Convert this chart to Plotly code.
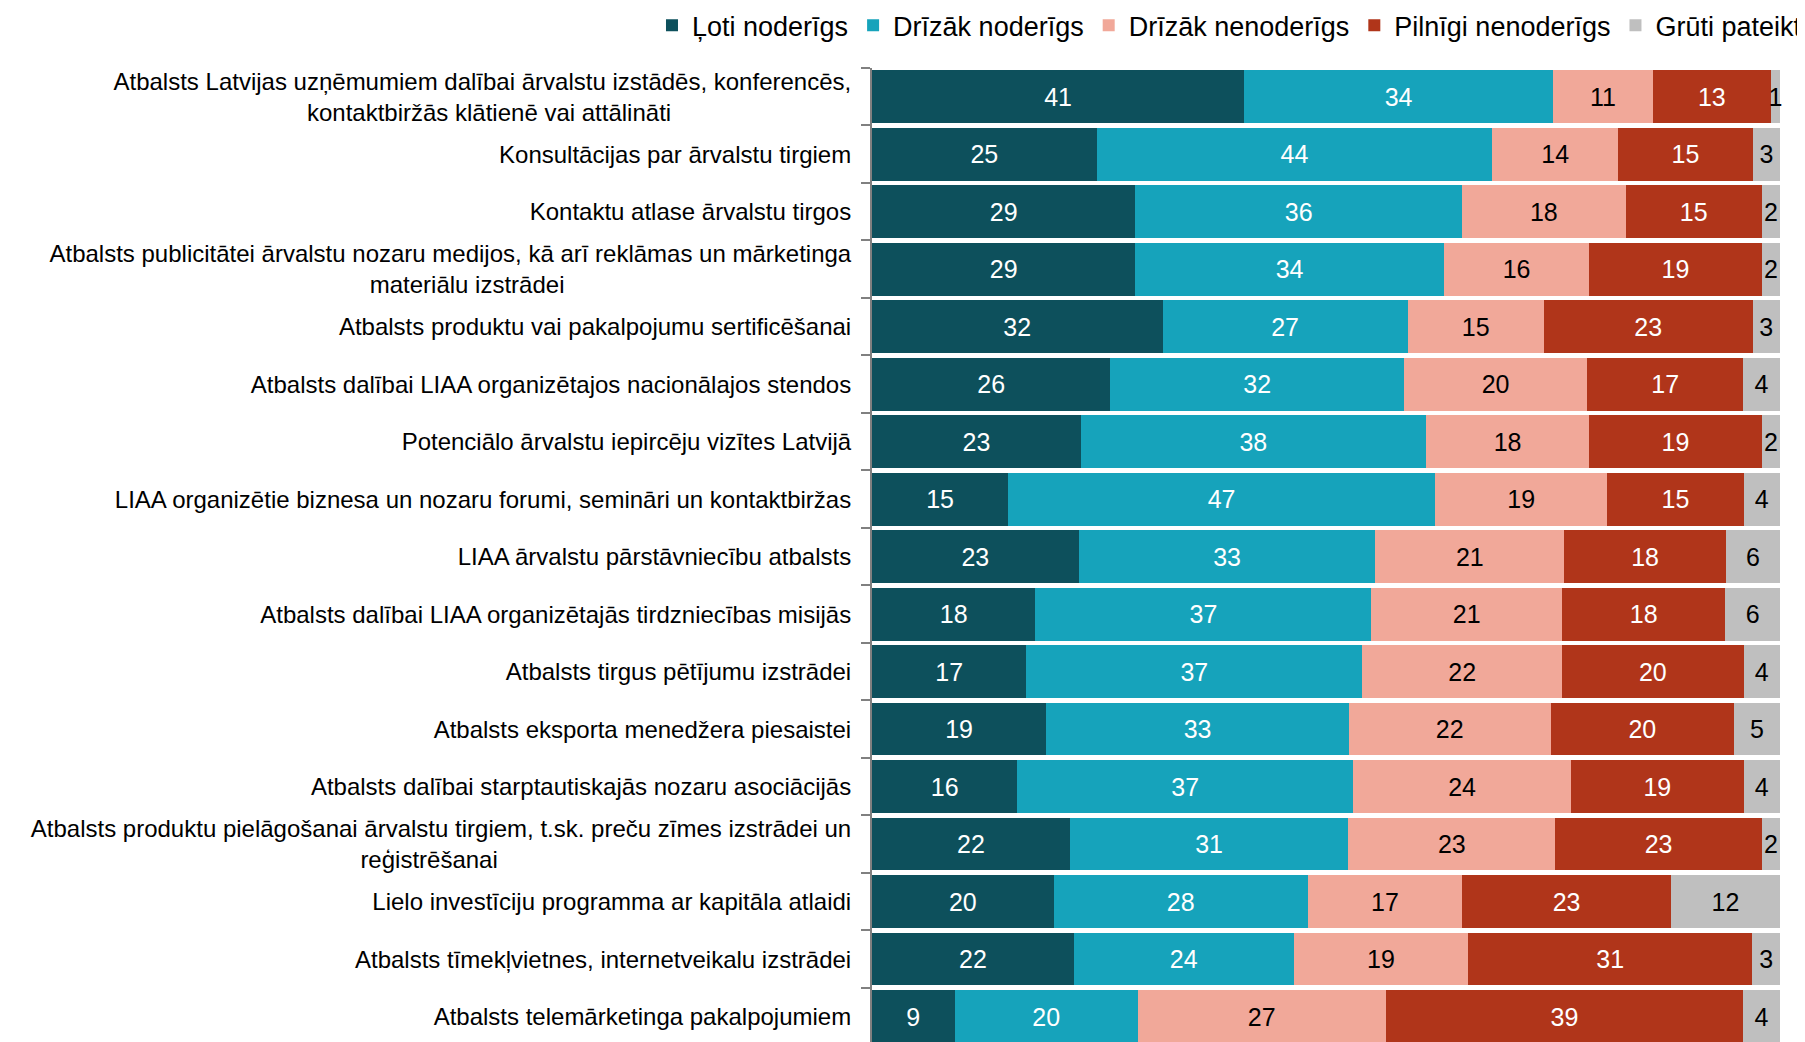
import plotly.graph_objects as go

NB = "\u00a0"

categories = [
    "Atbalsts Latvijas uzņēmumiem dalībai ārvalstu izstādēs, konferencēs,<br>kontaktbiržās klātienē vai attālināti" + NB * 27,
    "Konsultācijas par ārvalstu tirgiem",
    "Kontaktu atlase ārvalstu tirgos",
    "Atbalsts publicitātei ārvalstu nozaru medijos, kā arī reklāmas un mārketinga<br>materiālu izstrādei" + NB * 43,
    "Atbalsts produktu vai pakalpojumu sertificēšanai",
    "Atbalsts dalībai LIAA organizētajos nacionālajos stendos",
    "Potenciālo ārvalstu iepircēju vizītes Latvijā",
    "LIAA organizētie biznesa un nozaru forumi, semināri un kontaktbiržas",
    "LIAA ārvalstu pārstāvniecību atbalsts",
    "Atbalsts dalībai LIAA organizētajās tirdzniecības misijās",
    "Atbalsts tirgus pētījumu izstrādei",
    "Atbalsts eksporta menedžera piesaistei",
    "Atbalsts dalībai starptautiskajās nozaru asociācijās",
    "Atbalsts produktu pielāgošanai ārvalstu tirgiem, t.sk. preču zīmes izstrādei un<br>reģistrēšanai" + NB * 53,
    "Lielo investīciju programma ar kapitāla atlaidi",
    "Atbalsts tīmekļvietnes, internetveikalu izstrādei",
    "Atbalsts telemārketinga pakalpojumiem",
]

loti_noderigs =      [41, 25, 29, 29, 32, 26, 23, 15, 23, 18, 17, 19, 16, 22, 20, 22, 9]
drizak_noderigs =    [34, 44, 36, 34, 27, 32, 38, 47, 33, 37, 37, 33, 37, 31, 28, 24, 20]
drizak_nenoderigs =  [11, 14, 18, 16, 15, 20, 18, 19, 21, 21, 22, 22, 24, 23, 17, 19, 27]
pilnigi_nenoderigs = [13, 15, 15, 19, 23, 17, 19, 15, 18, 18, 20, 20, 19, 23, 23, 31, 39]
gruti_pateikt =      [1, 3, 2, 2, 3, 4, 2, 4, 6, 6, 4, 5, 4, 2, 12, 3, 4]

series_names = ["Ļoti noderīgs", "Drīzāk noderīgs", "Drīzāk nenoderīgs", "Pilnīgi nenoderīgs", "Grūti pateikt"]
series_values = [loti_noderigs, drizak_noderigs, drizak_nenoderigs, pilnigi_nenoderigs, gruti_pateikt]
series_colors = ["#0D505C", "#16A3BB", "#F1A899", "#B0351A", "#BFBFBF"]
text_colors = ["white", "white", "black", "white", "black"]

FONT = "Liberation Sans, Arial, sans-serif"

fig = go.Figure()
for name, vals, col, tcol in zip(series_names, series_values, series_colors, text_colors):
    fig.add_trace(go.Bar(
        y=categories, x=vals, name=name, orientation="h",
        marker=dict(color=col, line=dict(width=0)),
        text=[str(v) for v in vals], texttemplate="%{text}",
        textposition="inside", insidetextanchor="middle",
        textfont=dict(color=tcol, size=25, family=FONT),
        constraintext="none", cliponaxis=False,
    ))

fig.update_layout(
    width=1805, height=1042,
    barmode="stack", barnorm="percent", bargap=0.085,
    plot_bgcolor="white", paper_bgcolor="white",
    margin=dict(l=864, r=33, t=60, b=0, autoexpand=False),
    font=dict(family=FONT, size=24, color="black"),
    uniformtext=dict(minsize=25, mode="show"),
    legend=dict(orientation="h", xref="paper", yref="paper",
                x=-0.2423, xanchor="left", y=1.068, yanchor="top",
                font=dict(size=27, family=FONT), traceorder="normal",
                bgcolor="rgba(0,0,0,0)"),
    showlegend=True,
)
fig.update_xaxes(range=[0, 100.01], showticklabels=False, showgrid=False, zeroline=False, showline=False)
fig.update_yaxes(range=[16.58, -0.5], showgrid=False, zeroline=False,
                 showline=True, linecolor="#808080", linewidth=2,
                 ticks="outside", ticklen=9, tickcolor="#808080", tickwidth=2,
                 tickson="boundaries", ticklabelstandoff=14,
                 tickfont=dict(size=24, family=FONT, color="black"))

fig.write_html("out.html")
